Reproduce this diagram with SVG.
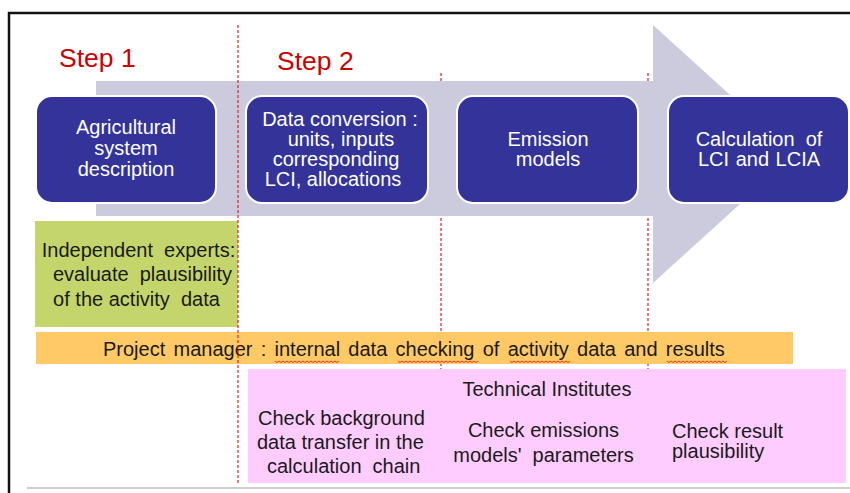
<svg xmlns="http://www.w3.org/2000/svg" width="850" height="493" viewBox="0 0 850 493">
<defs>
<style>
.box{fill:#333399;stroke:#ffffff;stroke-width:2}
.bt{font-family:"Liberation Sans",Arial,sans-serif;font-size:20px;fill:#ffffff;text-anchor:middle}
.dt{font-family:"Liberation Sans",Arial,sans-serif;font-size:20px;fill:#1a1a1a;text-anchor:middle}
.ls{text-anchor:start}
.step{font-family:"Liberation Sans",Arial,sans-serif;font-size:26.5px;fill:#cc0000}
.dash{stroke:#dd2222;stroke-width:1.2;stroke-dasharray:3,2;fill:none}
.wave{stroke:#e03030;stroke-width:1;fill:none}
</style>
</defs>
<rect x="0" y="0" width="850" height="493" fill="#ffffff"/>
<path d="M9 493 V13 H850" fill="none" stroke="#111111" stroke-width="2.5"/>
<line x1="27" y1="488" x2="850" y2="488" stroke="#cfcfcf" stroke-width="2"/>
<g id="connectors">
<line class="dash" x1="441" y1="73" x2="441" y2="483"/>
<line class="dash" x1="648" y1="73" x2="648" y2="483"/>
<polygon id="arrow" points="96,81 653,81 653,25 795,154 653,283 653,216 96,216" fill="#cbcbdd"/>
</g>
<text class="step" x="59" y="67">Step 1</text>
<text class="step" x="277" y="70">Step 2</text>
<g id="n1">
<rect class="box" x="36" y="96" width="180" height="107" rx="16"/>
<text class="bt" x="126" y="134">Agricultural</text>
<text class="bt" x="126" y="155">system</text>
<text class="bt" x="126" y="176">description</text>
</g>
<g id="n2">
<rect class="box" x="246" y="96" width="182" height="107" rx="16"/>
<text class="bt" x="340" y="126">Data conversion :</text>
<text class="bt" x="341" y="146">units, inputs</text>
<text class="bt" x="336" y="166">corresponding</text>
<text class="bt" x="333" y="186">LCI, allocations</text>
</g>
<g id="n3">
<rect class="box" x="457" y="96" width="181" height="107" rx="16"/>
<text class="bt" x="548" y="146">Emission</text>
<text class="bt" x="548" y="166">models</text>
</g>
<g id="n4">
<rect class="box" x="668" y="96" width="181" height="107" rx="16"/>
<text class="bt" x="759" y="146" xml:space="preserve">Calculation  of</text>
<text class="bt" x="759" y="166" word-spacing="1">LCI and LCIA</text>
</g>
<g id="experts">
<rect x="35" y="221" width="203" height="106" fill="#c4d66b"/>
<text class="dt" x="138.5" y="257" xml:space="preserve">Independent  experts:</text>
<text class="dt" x="142.5" y="281" xml:space="preserve">evaluate  plausibility</text>
<text class="dt" x="136.5" y="306" xml:space="preserve">of the activity  data</text>
</g>
<g id="manager">
<rect x="36" y="332" width="757" height="32" fill="#ffc966"/>
<text class="dt ls" x="103" y="356" word-spacing="2.7">Project manager : internal data checking of activity data and results</text>
<path class="wave" d="M275 361 l2 1.5 l2 -1.5 l2 1.5 l2 -1.5 l2 1.5 l2 -1.5 l2 1.5 l2 -1.5 l2 1.5 l2 -1.5 l2 1.5 l2 -1.5 l2 1.5 l2 -1.5 l2 1.5 l2 -1.5 l2 1.5 l2 -1.5 l2 1.5 l2 -1.5 l2 1.5 l2 -1.5 l2 1.5 l2 -1.5 l2 1.5 l2 -1.5 l2 1.5 l2 -1.5 l2 1.5 l2 -1.5 l2 1.5 l2 -1.5"/>
<path class="wave" d="M398 361 l2 1.5 l2 -1.5 l2 1.5 l2 -1.5 l2 1.5 l2 -1.5 l2 1.5 l2 -1.5 l2 1.5 l2 -1.5 l2 1.5 l2 -1.5 l2 1.5 l2 -1.5 l2 1.5 l2 -1.5 l2 1.5 l2 -1.5 l2 1.5 l2 -1.5 l2 1.5 l2 -1.5 l2 1.5 l2 -1.5 l2 1.5 l2 -1.5 l2 1.5 l2 -1.5 l2 1.5 l2 -1.5 l2 1.5 l2 -1.5 l2 1.5 l2 -1.5 l2 1.5 l2 -1.5 l2 1.5 l2 -1.5 l2 1.5 l2 -1.5"/>
<path class="wave" d="M510 361 l2 1.5 l2 -1.5 l2 1.5 l2 -1.5 l2 1.5 l2 -1.5 l2 1.5 l2 -1.5 l2 1.5 l2 -1.5 l2 1.5 l2 -1.5 l2 1.5 l2 -1.5 l2 1.5 l2 -1.5 l2 1.5 l2 -1.5 l2 1.5 l2 -1.5 l2 1.5 l2 -1.5 l2 1.5 l2 -1.5 l2 1.5 l2 -1.5 l2 1.5 l2 -1.5 l2 1.5 l2 -1.5"/>
<path class="wave" d="M667 361 l2 1.5 l2 -1.5 l2 1.5 l2 -1.5 l2 1.5 l2 -1.5 l2 1.5 l2 -1.5 l2 1.5 l2 -1.5 l2 1.5 l2 -1.5 l2 1.5 l2 -1.5 l2 1.5 l2 -1.5 l2 1.5 l2 -1.5 l2 1.5 l2 -1.5 l2 1.5 l2 -1.5 l2 1.5 l2 -1.5 l2 1.5 l2 -1.5 l2 1.5 l2 -1.5 l2 1.5 l2 -1.5"/>
</g>
<g id="institutes">
<rect x="248" y="369" width="598" height="114" fill="#ffccff"/>
<text class="dt" x="547" y="396">Technical Institutes</text>
<text class="dt ls" x="258" y="425">Check background</text>
<text class="dt ls" x="257" y="449">data transfer in the</text>
<text class="dt ls" x="267" y="473" xml:space="preserve">calculation  chain</text>
<text class="dt" x="543.5" y="437">Check emissions</text>
<text class="dt" x="543.5" y="462" xml:space="preserve">models'  parameters</text>
<text class="dt ls" x="672" y="438">Check result</text>
<text class="dt ls" x="672" y="458">plausibility</text>
</g>
<line class="dash" x1="238" y1="25" x2="238" y2="483"/>
</svg>
